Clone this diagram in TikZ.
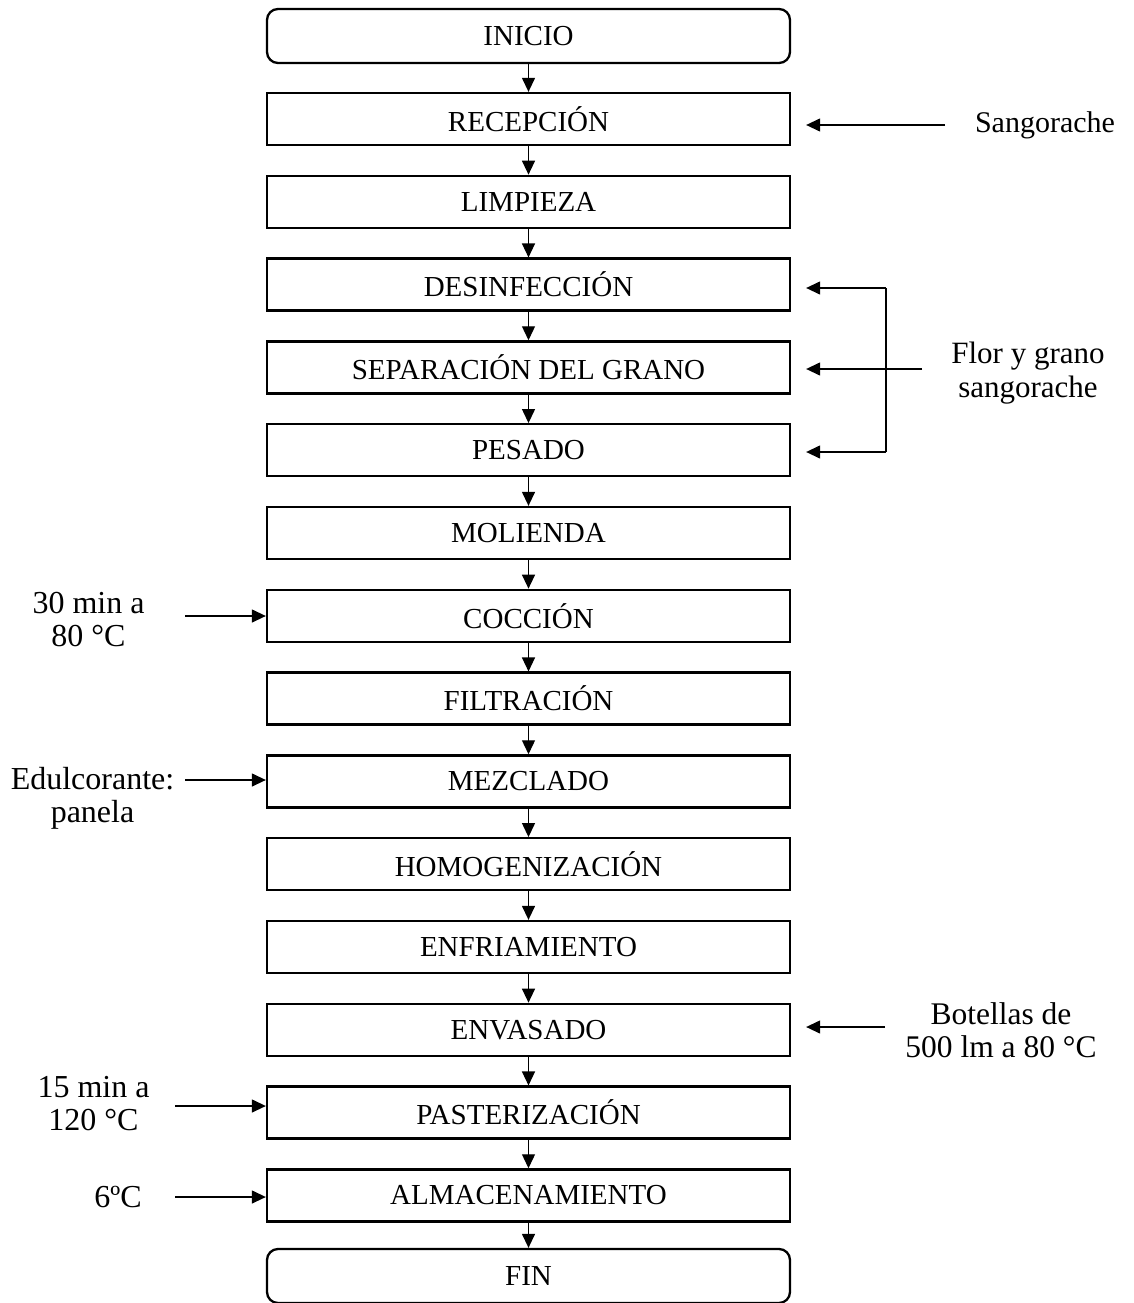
\documentclass[tikz,border=0pt]{standalone}
\usepackage{fontspec}
\setmainfont{Liberation Serif}
\usetikzlibrary{arrows.meta}
\begin{document}
\begin{tikzpicture}[x=1pt,y=-1pt,
  stepbox/.style={draw,line width=2.3pt,minimum width=523pt,minimum height=52pt,inner sep=0pt,font=\fontsize{29}{34}\selectfont},
  termbox/.style={stepbox,rounded corners=11pt,minimum height=54pt},
  lbl/.style={align=center,inner sep=0pt,font=\fontsize{32}{33}\selectfont},
  flow/.style={line width=1.3pt,-{Triangle[length=14pt,width=13pt]}},
  side/.style={line width=1.3pt,-{Triangle[length=14pt,width=13pt]}},
  plain/.style={line width=1.3pt}]
\useasboundingbox (0,0) rectangle (1134,1303);
\node[termbox] (n0) at (528.5,36) {INICIO};
\node[stepbox] (n1) at (528.5,119) {RECEPCIÓN};
\node[stepbox] (n2) at (528.5,201.8) {LIMPIEZA};
\node[stepbox] (n3) at (528.5,284.6) {DESINFECCIÓN};
\node[stepbox] (n4) at (528.5,367.4) {SEPARACIÓN DEL GRANO};
\node[stepbox] (n5) at (528.5,450.2) {PESADO};
\node[stepbox] (n6) at (528.5,533) {MOLIENDA};
\node[stepbox] (n7) at (528.5,615.8) {COCCIÓN};
\node[stepbox] (n8) at (528.5,698.6) {FILTRACIÓN};
\node[stepbox] (n9) at (528.5,781.4) {MEZCLADO};
\node[stepbox] (n10) at (528.5,864.2) {HOMOGENIZACIÓN};
\node[stepbox] (n11) at (528.5,947) {ENFRIAMIENTO};
\node[stepbox] (n12) at (528.5,1029.8) {ENVASADO};
\node[stepbox] (n13) at (528.5,1112.6) {PASTERIZACIÓN};
\node[stepbox] (n14) at (528.5,1195.4) {ALMACENAMIENTO};
\node[termbox] (n15) at (528.5,1276) {FIN};
\foreach \a/\b in {n0/n1,n1/n2,n2/n3,n3/n4,n4/n5,n5/n6,n6/n7,n7/n8,n8/n9,n9/n10,n10/n11,n11/n12,n12/n13,n13/n14,n14/n15}
  \draw[flow] (\a.south) -- (\b.north);
% right inputs
\node[lbl,font=\fontsize{30}{33}\selectfont] (t1) at (1045,125) {Sangorache};
\coordinate (c1) at (945,125);
\draw[side] (c1) -- ([xshift=15pt]n1.east |- c1);
\node[lbl,font=\fontsize{31}{34}\selectfont] (t2) at (1028,373) {Flor y grano\\sangorache};
\coordinate (c2) at (922,369);
\coordinate (ct) at (886,288);
\coordinate (cb) at (886,452);
\draw[plain] (ct) -- (cb);
\draw[side] (ct) -- ([xshift=15pt]n3.east |- ct);
\draw[side] (c2) -- ([xshift=15pt]n4.east |- c2);
\draw[side] (cb) -- ([xshift=15pt]n5.east |- cb);
\node[lbl,font=\fontsize{31.5}{33}\selectfont] (t5) at (1001,1030) {Botellas de\\500 lm a 80 °C};
\coordinate (c5) at (885,1027);
\draw[side] (c5) -- ([xshift=15pt]n12.east |- c5);
% left inputs
\node[lbl] (t3) at (88.5,620) {30 min a\\80 °C};
\coordinate (c3) at (185,616);
\draw[side] (c3) -- (n7.west |- c3);
\node[lbl] (t4) at (92.5,798) {Edulcorante:\\panela};
\coordinate (c4) at (185,780);
\draw[side] (c4) -- (n9.west |- c4);
\node[lbl] (t6) at (93.5,1104) {15 min a\\120 °C};
\coordinate (c6) at (175,1106);
\draw[side] (c6) -- (n13.west |- c6);
\node[lbl] (t7) at (118,1197) {6ºC};
\coordinate (c7) at (175,1197);
\draw[side] (c7) -- (n14.west |- c7);
\end{tikzpicture}
\end{document}
